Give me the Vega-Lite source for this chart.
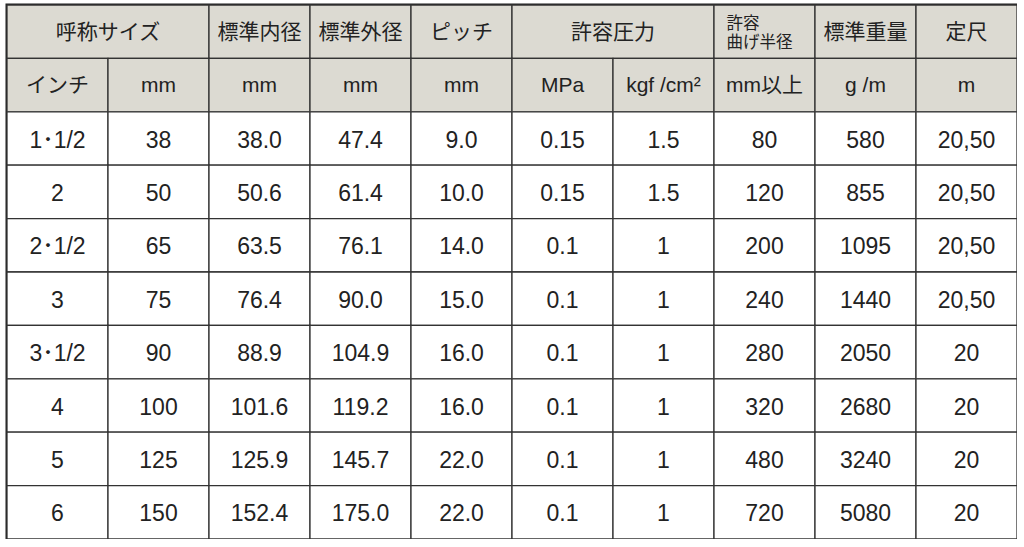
{
  "$schema": "https://vega.github.io/schema/vega-lite/v6.json",
  "width": 1010,
  "height": 534,
  "padding": {"left": 7, "top": 5, "right": 0, "bottom": 0},
  "autosize": "none",
  "background": "white",
  "view": {"stroke": "#1e1e1e", "strokeWidth": 3},
  "config": {"text": {"font": "Liberation Sans, Noto Sans CJK JP", "color": "#222222"}},
  "data": {
    "values": [
      {"r": 0, "c": 0, "s": 2, "t": "呼称サイズ"},
      {"r": 0, "c": 2, "t": "標準内径"},
      {"r": 0, "c": 3, "t": "標準外径"},
      {"r": 0, "c": 4, "t": "ピッチ"},
      {"r": 0, "c": 5, "s": 2, "t": "許容圧力"},
      {"r": 0, "c": 7, "t": "許容\n曲げ半径"},
      {"r": 0, "c": 8, "t": "標準重量"},
      {"r": 0, "c": 9, "t": "定尺"},
      {"r": 1, "c": 0, "t": "インチ"},
      {"r": 1, "c": 1, "t": "mm"},
      {"r": 1, "c": 2, "t": "mm"},
      {"r": 1, "c": 3, "t": "mm"},
      {"r": 1, "c": 4, "t": "mm"},
      {"r": 1, "c": 5, "t": "MPa"},
      {"r": 1, "c": 6, "t": "kgf /cm²"},
      {"r": 1, "c": 7, "t": "mm以上"},
      {"r": 1, "c": 8, "t": "g /m"},
      {"r": 1, "c": 9, "t": "m"},
      {"r": 2, "c": 0, "t": "1･1/2"}, {"r": 2, "c": 1, "t": "38"}, {"r": 2, "c": 2, "t": "38.0"}, {"r": 2, "c": 3, "t": "47.4"}, {"r": 2, "c": 4, "t": "9.0"},
      {"r": 2, "c": 5, "t": "0.15"}, {"r": 2, "c": 6, "t": "1.5"}, {"r": 2, "c": 7, "t": "80"}, {"r": 2, "c": 8, "t": "580"}, {"r": 2, "c": 9, "t": "20,50"},
      {"r": 3, "c": 0, "t": "2"}, {"r": 3, "c": 1, "t": "50"}, {"r": 3, "c": 2, "t": "50.6"}, {"r": 3, "c": 3, "t": "61.4"}, {"r": 3, "c": 4, "t": "10.0"},
      {"r": 3, "c": 5, "t": "0.15"}, {"r": 3, "c": 6, "t": "1.5"}, {"r": 3, "c": 7, "t": "120"}, {"r": 3, "c": 8, "t": "855"}, {"r": 3, "c": 9, "t": "20,50"},
      {"r": 4, "c": 0, "t": "2･1/2"}, {"r": 4, "c": 1, "t": "65"}, {"r": 4, "c": 2, "t": "63.5"}, {"r": 4, "c": 3, "t": "76.1"}, {"r": 4, "c": 4, "t": "14.0"},
      {"r": 4, "c": 5, "t": "0.1"}, {"r": 4, "c": 6, "t": "1"}, {"r": 4, "c": 7, "t": "200"}, {"r": 4, "c": 8, "t": "1095"}, {"r": 4, "c": 9, "t": "20,50"},
      {"r": 5, "c": 0, "t": "3"}, {"r": 5, "c": 1, "t": "75"}, {"r": 5, "c": 2, "t": "76.4"}, {"r": 5, "c": 3, "t": "90.0"}, {"r": 5, "c": 4, "t": "15.0"},
      {"r": 5, "c": 5, "t": "0.1"}, {"r": 5, "c": 6, "t": "1"}, {"r": 5, "c": 7, "t": "240"}, {"r": 5, "c": 8, "t": "1440"}, {"r": 5, "c": 9, "t": "20,50"},
      {"r": 6, "c": 0, "t": "3･1/2"}, {"r": 6, "c": 1, "t": "90"}, {"r": 6, "c": 2, "t": "88.9"}, {"r": 6, "c": 3, "t": "104.9"}, {"r": 6, "c": 4, "t": "16.0"},
      {"r": 6, "c": 5, "t": "0.1"}, {"r": 6, "c": 6, "t": "1"}, {"r": 6, "c": 7, "t": "280"}, {"r": 6, "c": 8, "t": "2050"}, {"r": 6, "c": 9, "t": "20"},
      {"r": 7, "c": 0, "t": "4"}, {"r": 7, "c": 1, "t": "100"}, {"r": 7, "c": 2, "t": "101.6"}, {"r": 7, "c": 3, "t": "119.2"}, {"r": 7, "c": 4, "t": "16.0"},
      {"r": 7, "c": 5, "t": "0.1"}, {"r": 7, "c": 6, "t": "1"}, {"r": 7, "c": 7, "t": "320"}, {"r": 7, "c": 8, "t": "2680"}, {"r": 7, "c": 9, "t": "20"},
      {"r": 8, "c": 0, "t": "5"}, {"r": 8, "c": 1, "t": "125"}, {"r": 8, "c": 2, "t": "125.9"}, {"r": 8, "c": 3, "t": "145.7"}, {"r": 8, "c": 4, "t": "22.0"},
      {"r": 8, "c": 5, "t": "0.1"}, {"r": 8, "c": 6, "t": "1"}, {"r": 8, "c": 7, "t": "480"}, {"r": 8, "c": 8, "t": "3240"}, {"r": 8, "c": 9, "t": "20"},
      {"r": 9, "c": 0, "t": "6"}, {"r": 9, "c": 1, "t": "150"}, {"r": 9, "c": 2, "t": "152.4"}, {"r": 9, "c": 3, "t": "175.0"}, {"r": 9, "c": 4, "t": "22.0"},
      {"r": 9, "c": 5, "t": "0.1"}, {"r": 9, "c": 6, "t": "1"}, {"r": 9, "c": 7, "t": "720"}, {"r": 9, "c": 8, "t": "5080"}, {"r": 9, "c": 9, "t": "20"}
    ]
  },
  "transform": [
    {"calculate": "datum.c + (datum.s || 1)", "as": "e"},
    {"calculate": "(datum.c + datum.e) / 2", "as": "m"},
    {"calculate": "datum.r + 1", "as": "r2"},
    {"calculate": "datum.r + 0.5", "as": "rm"},
    {"calculate": "datum.r < 2 ? 'head' : 'body'", "as": "kind"}
  ],
  "encoding": {
    "y": {"field": "r", "type": "quantitative", "scale": {"domain": [0, 10], "reverse": true, "nice": false, "zero": false}, "axis": null}
  },
  "layer": [
    {
      "mark": {"type": "rect", "stroke": "#333333", "strokeWidth": 1.3},
      "encoding": {
        "x": {"field": "c", "type": "quantitative", "scale": {"domain": [0, 10], "nice": false}, "axis": null},
        "x2": {"field": "e"},
        "y2": {"field": "r2"},
        "fill": {"field": "kind", "type": "nominal", "scale": {"domain": ["head", "body"], "range": ["#dcdad2", "#ffffff"]}, "legend": null}
      }
    },
    {
      "transform": [{"filter": "datum.r >= 2"}],
      "mark": {"type": "text", "fontSize": 23, "baseline": "middle", "dy": 2},
      "encoding": {
        "x": {"field": "m", "type": "quantitative"},
        "y": {"field": "rm", "type": "quantitative"},
        "text": {"field": "t"}
      }
    },
    {
      "transform": [{"filter": "datum.r < 2 && datum.c != 7 || datum.r == 1"}],
      "mark": {"type": "text", "fontSize": 21, "baseline": "middle", "dy": 1},
      "encoding": {
        "x": {"field": "m", "type": "quantitative"},
        "y": {"field": "rm", "type": "quantitative"},
        "text": {"field": "t"}
      }
    },
    {
      "transform": [{"filter": "datum.r == 0 && datum.c == 7"}],
      "mark": {"type": "text", "fontSize": 16.5, "align": "left", "baseline": "middle", "dx": -38, "dy": -8, "lineBreak": "\n", "lineHeight": 19},
      "encoding": {
        "x": {"field": "m", "type": "quantitative"},
        "y": {"field": "rm", "type": "quantitative"},
        "text": {"field": "t"}
      }
    }
  ]
}
